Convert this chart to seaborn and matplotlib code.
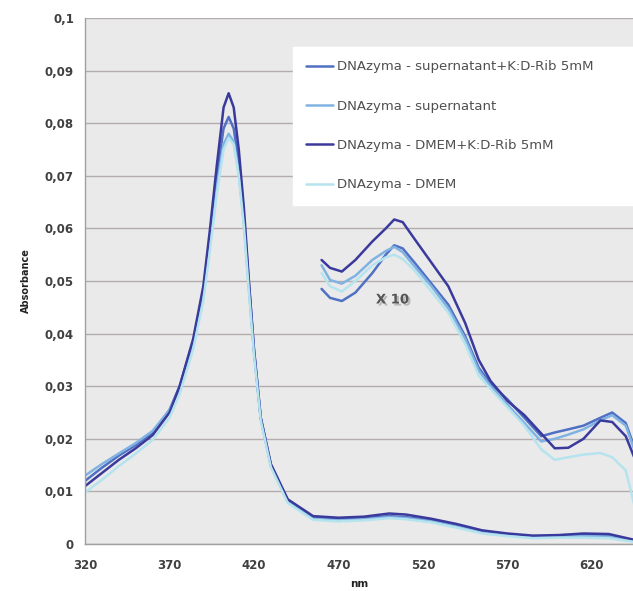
import numpy as np
import pandas as pd
import seaborn as sns
import matplotlib
matplotlib.use('Agg')
import matplotlib.pyplot as plt
import matplotlib.patheffects as pe
from matplotlib.ticker import FuncFormatter

# series names (legend order)
series_names = ['DNAzyma - supernatant+K:D-Rib 5mM',
                'DNAzyma - supernatant',
                'DNAzyma - DMEM+K:D-Rib 5mM',
                'DNAzyma - DMEM']
series_colors = ['#5070c4', '#80b2e2', '#3a3a9c', '#b5e4ef']

# full spectrum, 320-645 nm
nm_full = [320, 330, 340, 350, 360, 370, 376, 384, 390, 394, 398, 402, 405, 408, 411, 414,
           417, 420, 424, 430, 440, 455, 470, 485, 500, 510, 525, 540, 555, 570, 585, 600,
           615, 630, 645]
abs_sup_k = [0.0120, 0.0145, 0.0168, 0.0188, 0.0212, 0.0255, 0.0300, 0.0385, 0.0480, 0.0585,
             0.0700, 0.0790, 0.0812, 0.0790, 0.0725, 0.0625, 0.0495, 0.0370, 0.0240, 0.0150,
             0.0082, 0.0050, 0.0047, 0.0049, 0.0053, 0.0051, 0.0045, 0.0035, 0.0023, 0.0018,
             0.0014, 0.0015, 0.0017, 0.0016, 0.0007]
abs_sup = [0.0130, 0.0152, 0.0172, 0.0192, 0.0215, 0.0255, 0.0295, 0.0378, 0.0470, 0.0570,
           0.0680, 0.0760, 0.0780, 0.0765, 0.0705, 0.0610, 0.0485, 0.0365, 0.0238, 0.0148,
           0.0080, 0.0048, 0.0045, 0.0047, 0.0051, 0.0049, 0.0043, 0.0033, 0.0022, 0.0017,
           0.0013, 0.0014, 0.0015, 0.0014, 0.0006]
abs_dmem_k = [0.0110, 0.0135, 0.0160, 0.0182, 0.0207, 0.0250, 0.0300, 0.0390, 0.0490, 0.0600,
              0.0720, 0.0830, 0.0857, 0.0830, 0.0750, 0.0640, 0.0500, 0.0370, 0.0240, 0.0152,
              0.0085, 0.0053, 0.0050, 0.0052, 0.0058, 0.0056, 0.0048, 0.0038, 0.0026, 0.0020,
              0.0016, 0.0017, 0.0020, 0.0019, 0.0008]
abs_dmem = [0.0098, 0.0122, 0.0148, 0.0172, 0.0198, 0.0240, 0.0285, 0.0370, 0.0462, 0.0560,
            0.0665, 0.0750, 0.0772, 0.0760, 0.0700, 0.0605, 0.0480, 0.0360, 0.0235, 0.0146,
            0.0078, 0.0046, 0.0043, 0.0045, 0.0049, 0.0047, 0.0041, 0.0031, 0.0020, 0.0015,
            0.0011, 0.0012, 0.0012, 0.0011, 0.0004]

# x10 magnified part, 460-645 nm
nm_x10 = [460, 465, 472, 480, 490, 498, 503, 508, 515, 525, 535, 545, 553, 560, 570, 580,
          590, 598, 606, 615, 625, 632, 640, 645]
x10_sup_k = [0.0485, 0.0468, 0.0462, 0.0478, 0.0515, 0.0550, 0.0568, 0.0562, 0.0535, 0.0495,
             0.0455, 0.0395, 0.0335, 0.0305, 0.0275, 0.0240, 0.0205, 0.0212, 0.0218, 0.0225,
             0.0240, 0.0250, 0.0230, 0.0185]
x10_sup = [0.0530, 0.0502, 0.0495, 0.0510, 0.0540, 0.0557, 0.0565, 0.0555, 0.0528, 0.0490,
           0.0448, 0.0390, 0.0330, 0.0300, 0.0265, 0.0230, 0.0195, 0.0200, 0.0208, 0.0218,
           0.0235, 0.0245, 0.0225, 0.0180]
x10_dmem_k = [0.0540, 0.0525, 0.0518, 0.0540, 0.0575, 0.0600, 0.0617, 0.0612, 0.0580, 0.0535,
              0.0490, 0.0420, 0.0350, 0.0310, 0.0272, 0.0245, 0.0210, 0.0182, 0.0183, 0.0200,
              0.0235, 0.0232, 0.0205, 0.0165]
x10_dmem = [0.0515, 0.0490, 0.0480, 0.0500, 0.0530, 0.0545, 0.0550, 0.0542, 0.0520, 0.0480,
            0.0440, 0.0380, 0.0320, 0.0295, 0.0260, 0.0225, 0.0180, 0.0160, 0.0165, 0.0170,
            0.0173, 0.0165, 0.0140, 0.0075]

y_ticks = [0, 0.01, 0.02, 0.03, 0.04, 0.05, 0.06, 0.07, 0.08, 0.09, 0.1]
x_ticks = [320, 370, 420, 470, 520, 570, 620]

# tabella lunga per seaborn
rows = []
full_vals = [abs_sup_k, abs_sup, abs_dmem_k, abs_dmem]
x10_vals = [x10_sup_k, x10_sup, x10_dmem_k, x10_dmem]
for name, fv, xv in zip(series_names, full_vals, x10_vals):
    for w, a in zip(nm_full, fv):
        rows.append((name, name + '_full', w, a))
    for w, a in zip(nm_x10, xv):
        rows.append((name, name + '_x10', w, a))
df = pd.DataFrame(rows, columns=['series', 'segment', 'nm', 'Absorbance'])

sns.set_theme(style='whitegrid', rc={
    'axes.facecolor': '#eaeaea',
    'grid.color': '#b3acac',
    'grid.linewidth': 1.0,
    'axes.edgecolor': '#a0a0a0',
})
plt.rcParams['font.family'] = ['DejaVu Sans']

fig = plt.figure(figsize=(6.33, 5.91), dpi=100)
ax = fig.add_axes([0.1343, 0.0795, 0.8657, 0.890])

sns.lineplot(data=df, x='nm', y='Absorbance', hue='series', units='segment',
             estimator=None, hue_order=series_names,
             palette=dict(zip(series_names, series_colors)),
             linewidth=1.8, ax=ax, sort=False)

ax.set_xlim(320, 644.3)
ax.set_ylim(0, 0.1)
ax.set_xticks(x_ticks)
ax.set_yticks(y_ticks)
ax.xaxis.grid(False)
ax.yaxis.grid(True)

fmt = FuncFormatter(lambda v, _: '0' if abs(v) < 1e-9 else ('0,1' if abs(v - 0.1) < 1e-9 else f'{v:.2f}'.replace('.', ',')))
ax.yaxis.set_major_formatter(fmt)

for s in ['top', 'right']:
    ax.spines[s].set_visible(False)
ax.spines['left'].set_linewidth(1.0)
ax.spines['bottom'].set_linewidth(1.0)
ax.tick_params(axis='both', direction='out', length=4, width=1, color='#a0a0a0',
               labelsize=8.5, labelcolor='#404040')
ax.tick_params(axis='y', pad=4)
ax.tick_params(axis='x', pad=7)
for lab in ax.get_xticklabels() + ax.get_yticklabels():
    lab.set_fontweight('bold')

ax.set_xlabel('nm', fontsize=7.5, fontweight='bold', color='#222222', labelpad=5)
ax.set_ylabel('Absorbance', fontsize=7, fontweight='bold', color='#222222', labelpad=10)

# etichetta X10
ax.text(502, 0.0464, 'X 10', fontsize=9.5, fontweight='bold', color='#555555',
        ha='center', va='center',
        path_effects=[pe.SimplePatchShadow(offset=(1.5, -1.5), shadow_rgbFace='#888888', alpha=0.5),
                      pe.Normal()])

# legenda: riquadro bianco fino al bordo destro
leg = ax.legend(loc='upper left', bbox_to_anchor=(0.3796, 0.0, 0.66, 0.945), mode='expand',
                fontsize=9.5, frameon=True, facecolor='white', edgecolor='white', framealpha=1,
                fancybox=False, borderpad=1.0, labelspacing=2.0, handlelength=2.0,
                handletextpad=0.3, borderaxespad=0, title=None)
for t in leg.get_texts():
    t.set_color('#505050')

fig.savefig('out.png', dpi=100)
